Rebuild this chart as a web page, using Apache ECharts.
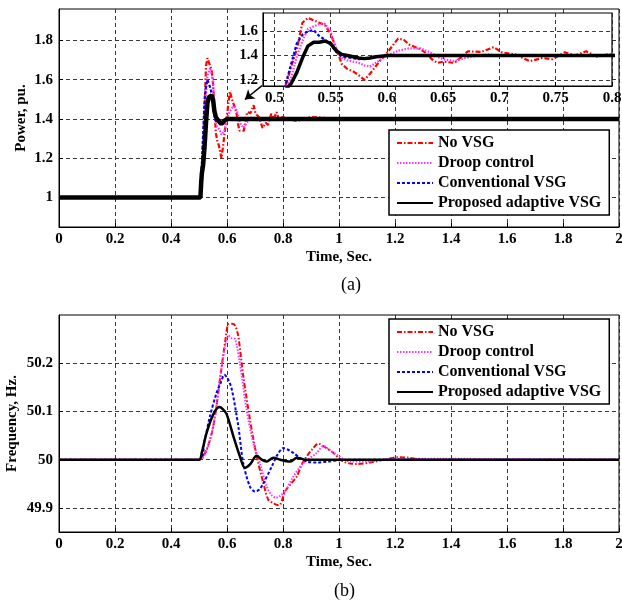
<!DOCTYPE html>
<html>
<head>
<meta charset="utf-8">
<script src="https://cdn.jsdelivr.net/npm/echarts@6/dist/echarts.min.js"></script>
<style>
  html, body { margin: 0; padding: 0; background: #fff; }
  #chart { width: 622px; height: 603px; }
</style>
</head>
<body>
<div id="chart"></div>
<script>
const seriesNames = ['No VSG', 'Droop control', 'Conventional VSG', 'Proposed adaptive VSG'];

// power, pu. [time, value]
const powerNoVSG = [[0,1],[0.505,1],[0.508,1.10],[0.51,1.15],[0.515,1.31],[0.52,1.45],[0.525,1.67],[0.53,1.71],[0.535,1.69],[0.54,1.67],[0.545,1.65],[0.55,1.58],[0.555,1.46],[0.56,1.33],[0.565,1.29],[0.57,1.27],[0.575,1.24],[0.58,1.20],[0.585,1.25],[0.59,1.31],[0.595,1.37],[0.6,1.42],[0.605,1.48],[0.61,1.54],[0.615,1.53],[0.62,1.49],[0.625,1.47],[0.63,1.45],[0.635,1.42],[0.64,1.37],[0.645,1.34],[0.65,1.35],[0.66,1.34],[0.672,1.435],[0.684,1.43],[0.695,1.47],[0.702,1.427],[0.714,1.41],[0.727,1.354],[0.738,1.38],[0.747,1.37],[0.758,1.427],[0.767,1.40],[0.777,1.435],[0.787,1.39],[0.796,1.41],[0.85,1.39],[0.9,1.41],[1.0,1.40],[2.0,1.40]];
const powerDroop = [[0,1],[0.505,1],[0.508,1.08],[0.51,1.12],[0.515,1.22],[0.52,1.39],[0.525,1.52],[0.53,1.62],[0.535,1.64],[0.54,1.66],[0.545,1.66],[0.55,1.60],[0.555,1.46],[0.56,1.38],[0.565,1.36],[0.57,1.35],[0.575,1.34],[0.58,1.32],[0.585,1.31],[0.59,1.34],[0.595,1.37],[0.6,1.40],[0.605,1.42],[0.61,1.44],[0.615,1.45],[0.62,1.46],[0.63,1.46],[0.635,1.44],[0.64,1.42],[0.645,1.39],[0.65,1.37],[0.66,1.355],[0.67,1.38],[0.68,1.40],[0.69,1.41],[0.70,1.40],[2.0,1.40]];
const powerConvVSG = [[0,1],[0.505,1],[0.508,1.10],[0.51,1.16],[0.515,1.33],[0.52,1.50],[0.525,1.57],[0.53,1.60],[0.535,1.61],[0.54,1.56],[0.545,1.53],[0.55,1.49],[0.555,1.43],[0.56,1.39],[0.565,1.385],[0.57,1.38],[0.575,1.37],[0.58,1.375],[0.585,1.38],[0.59,1.385],[0.595,1.39],[0.6,1.40],[2.0,1.40]];
const powerAdaptive = [[0,1],[0.505,1],[0.508,1.08],[0.51,1.12],[0.515,1.17],[0.52,1.26],[0.525,1.38],[0.53,1.48],[0.535,1.51],[0.54,1.51],[0.545,1.52],[0.55,1.50],[0.555,1.44],[0.56,1.41],[0.565,1.40],[0.57,1.39],[0.575,1.38],[0.58,1.375],[0.585,1.38],[0.59,1.39],[0.595,1.395],[0.6,1.40],[2.0,1.40]];

// frequency, Hz. [time, value]
const freqNoVSG = [[0,50],[0.5,50],[0.527,50.021],[0.551,50.069],[0.575,50.167],[0.593,50.243],[0.605,50.281],[0.618,50.282],[0.629,50.278],[0.64,50.257],[0.658,50.174],[0.682,50.083],[0.706,50.007],[0.73,49.951],[0.7475,49.917],[0.765,49.91],[0.78,49.906],[0.79,49.907],[0.807,49.934],[0.828,49.95],[0.849,49.965],[0.867,49.99],[0.885,50.007],[0.905,50.022],[0.926,50.033],[0.95,50.026],[0.98,50.014],[1.0,50.003],[1.016,49.996],[1.04,49.992],[1.063,49.991],[1.11,49.994],[1.17,50.001],[1.206,50.005],[1.25,50.004],[1.3,50.0],[2,50]];
const freqDroop = [[0,50],[0.5,50],[0.515,50.005],[0.533,50.028],[0.557,50.09],[0.581,50.194],[0.595,50.24],[0.605,50.257],[0.617,50.252],[0.629,50.25],[0.646,50.2],[0.67,50.104],[0.694,50.035],[0.718,49.992],[0.742,49.944],[0.76,49.926],[0.775,49.921],[0.79,49.925],[0.807,49.934],[0.837,49.965],[0.873,49.993],[0.92,50.014],[0.944,50.028],[0.968,50.02],[0.992,50.01],[1.04,49.996],[1.1,49.996],[1.17,50.001],[1.25,50.002],[2,50]];
const freqConvVSG = [[0,50],[0.5,50],[0.52,50.04],[0.539,50.09],[0.563,50.139],[0.578,50.16],[0.5905,50.176],[0.603,50.168],[0.617,50.146],[0.6405,50.069],[0.658,49.993],[0.682,49.944],[0.70,49.934],[0.715,49.938],[0.73,49.951],[0.76,49.986],[0.78,50.01],[0.801,50.024],[0.82,50.02],[0.837,50.014],[0.86,50.004],[0.885,49.996],[0.92,49.994],[0.96,49.996],[1.0,49.999],[1.05,50.0],[2,50]];
const freqAdaptive = [[0,50],[0.5,50],[0.51,50.015],[0.5274,50.056],[0.551,50.094],[0.5725,50.109],[0.585,50.105],[0.599,50.094],[0.6226,50.049],[0.646,50.007],[0.664,49.983],[0.682,49.99],[0.706,50.008],[0.724,50.0],[0.74,49.996],[0.766,50.004],[0.79,50.0],[0.825,49.996],[0.85,50.004],[0.88,50.0],[2,50]];

const powerTicks = [1, 1.2, 1.4, 1.6, 1.8];
const insetXTicks = [0.5, 0.55, 0.6, 0.65, 0.7, 0.75, 0.8];
const insetYTicks = [1.2, 1.4, 1.6];
const freqTicks = [49.9, 50, 50.1, 50.2];

const colors = ['#ff0000', '#ff33ff', '#0000ff', '#000000'];
const dashes = [[5, 2, 1.5, 2], [1.5, 1.5], [3, 2], 'solid'];

const FONT = 'Liberation Serif';
const chart = echarts.init(document.getElementById('chart'));

function valueAxis(opt) {
  const ticks = opt.ticks;
  const ax = {
    type: 'value',
    gridIndex: opt.grid,
    min: opt.min,
    max: opt.max,
    z: opt.z || 0,
    axisLine: { show: true, onZero: false, lineStyle: { color: '#000', width: 1 } },
    axisTick: { show: true, inside: true, length: 4, lineStyle: { color: '#000' } },
    axisLabel: {
      color: '#000', fontFamily: FONT, fontWeight: 'bold', fontSize: 15, margin: opt.margin || 5
    },
    splitLine: { show: true, lineStyle: { color: '#222', type: [4, 3], width: 0.9 } },
    name: opt.name || '',
    nameLocation: 'middle',
    nameGap: opt.nameGap || 20,
    nameMoveOverlap: false,
    nameTextStyle: { color: '#000', fontFamily: FONT, fontWeight: 'bold', fontSize: 15 }
  };
  if (ticks) {
    ax.axisTick.customValues = ticks;
    ax.axisLabel.customValues = ticks;
  } else {
    ax.interval = opt.interval;
  }
  return ax;
}

function lineSeries(name, i, data, xi, yi, z, width) {
  return {
    name: name,
    type: 'line',
    xAxisIndex: xi,
    yAxisIndex: yi,
    data: data,
    symbol: 'none',
    showSymbol: false,
    z: z,
    clip: true,
    lineStyle: { color: colors[i], width: width, type: dashes[i] },
    itemStyle: { color: colors[i] }
  };
}

const powerData = [powerNoVSG, powerDroop, powerConvVSG, powerAdaptive];
const freqData = [freqNoVSG, freqDroop, freqConvVSG, freqAdaptive];

const series = [];
seriesNames.forEach((n, i) => {
  const s = lineSeries(n, i, powerData[i], 0, 0, 2, i === 3 ? 4.5 : 2.2);
  if (i === 3) {
    s.markLine = {
      silent: true,
      symbol: ['none', 'arrow'],
      symbolSize: 9,
      label: { show: false },
      lineStyle: { color: '#000', width: 1.5, type: 'solid' },
      data: [[{ coord: [0.725, 1.57] }, { coord: [0.664, 1.499] }]]
    };
  }
  series.push(s);
});
seriesNames.forEach((n, i) => {
  series.push(lineSeries(n, i, powerData[i], 1, 1, 8, i === 3 ? 3.5 : 2.2));
});
seriesNames.forEach((n, i) => {
  const s = lineSeries(n, i, freqData[i], 2, 2, 2, i === 3 ? 2.5 : 2);
  s.smooth = 0.3;
  series.push(s);
});

const legendBase = {
  data: seriesNames,
  orient: 'vertical',
  left: 389,
  backgroundColor: '#fff',
  borderColor: '#000',
  borderWidth: 1.5,
  borderRadius: 0,
  padding: [5, 8, 4, 7],
  itemWidth: 36,
  itemHeight: 10,
  itemGap: 4,
  selectedMode: false,
  z: 10,
  itemStyle: { opacity: 0 },
  textStyle: { color: '#000', fontFamily: FONT, fontWeight: 'bold', fontSize: 16 }
};

const gridBase = { show: true, borderColor: '#000', backgroundColor: '#fff', outerBoundsMode: 'none', containLabel: false };

chart.setOption({
  animation: false,
  backgroundColor: '#fff',
  title: [
    { text: '(a)', left: 336, top: 271, textStyle: { fontFamily: FONT, fontWeight: 'normal', fontSize: 18, color: '#000' } },
    { text: '(b)', left: 329, top: 577, textStyle: { fontFamily: FONT, fontWeight: 'normal', fontSize: 18, color: '#000' } }
  ],
  legend: [
    Object.assign({}, legendBase, { top: 130 }),
    Object.assign({}, legendBase, { top: 319 })
  ],
  grid: [
    Object.assign({}, gridBase, { left: 59, top: 9, width: 560, height: 218, borderWidth: 1, z: 0 }),
    Object.assign({}, gridBase, { left: 263, top: 13, width: 349, height: 73, borderWidth: 1.2, z: 6 }),
    Object.assign({}, gridBase, { left: 59, top: 315, width: 560, height: 217, borderWidth: 1, z: 0 })
  ],
  xAxis: [
    valueAxis({ grid: 0, min: 0, max: 2, interval: 0.2, name: 'Time, Sec.', nameGap: 23 }),
    valueAxis({ grid: 1, min: 0.49, max: 0.8, ticks: insetXTicks, z: 7 }),
    valueAxis({ grid: 2, min: 0, max: 2, interval: 0.2, name: 'Time, Sec.', nameGap: 23 })
  ],
  yAxis: [
    valueAxis({ grid: 0, min: 0.85, max: 1.96, ticks: powerTicks, name: 'Power, pu.', nameGap: 30, margin: 6 }),
    valueAxis({ grid: 1, min: 1.15, max: 1.75, ticks: insetYTicks, z: 7 }),
    valueAxis({ grid: 2, min: 49.85, max: 50.3, ticks: freqTicks, name: 'Frequency, Hz.', nameGap: 39, margin: 6 })
  ],
  series: series
});
</script>
</body>
</html>
